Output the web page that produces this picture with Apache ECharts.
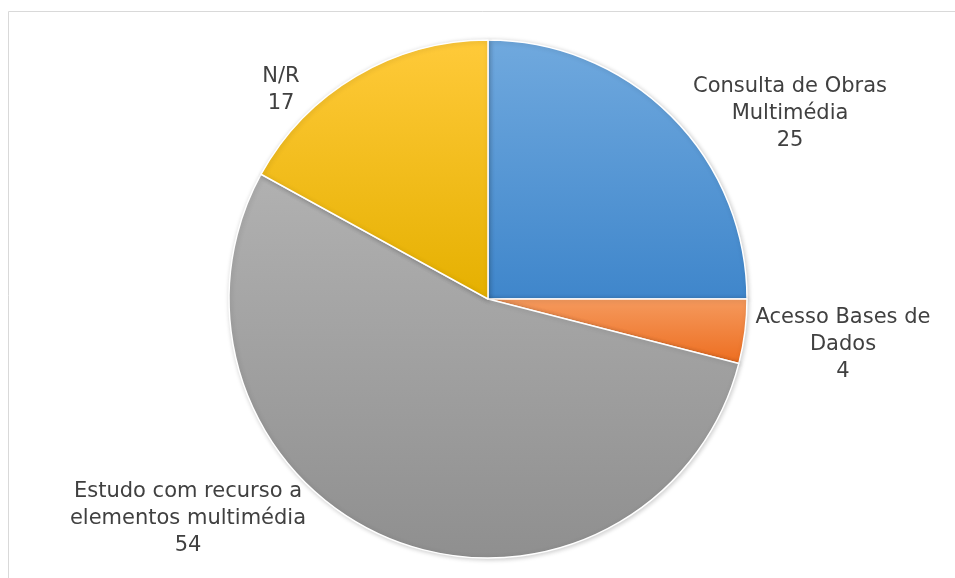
<!DOCTYPE html>
<html>
<head>
<meta charset="utf-8">
<script src="https://cdn.jsdelivr.net/npm/echarts@6/dist/echarts.min.js"></script>
<style>
    html,body{margin:0;padding:0;background:#fff;}
    #chart{width:955px;height:578px;}
</style>
</head>
<body>
<div id="chart"></div>
<script>
// dados do gráfico
var categories = ['Consulta de Obras\nMultimédia', 'Acesso Bases de\nDados', 'Estudo com recurso a\nelementos multimédia', 'N/R'];
var values = [25, 4, 54, 17];
// cores: [topo, base] de cada fatia
var colorsTop = ['#70a9de', '#f59a5e', '#b1b1b1', '#ffca3a'];
var colorsBottom = ['#3f86cb', '#ed6d1f', '#8f8f8f', '#e5b000'];
// centro de cada rótulo (px)
var labelPos = [[790, 114], [843, 345], [188, 519], [281, 90]];

var myChart = echarts.init(document.getElementById('chart'));

var pieData = values.map(function (v, i) {
    return {
        name: categories[i],
        value: v,
        itemStyle: {
            color: new echarts.graphic.LinearGradient(0, 0, 0, 1, [
                { offset: 0, color: colorsTop[i] },
                { offset: 1, color: colorsBottom[i] }
            ])
        }
    };
});

var option = {
    animation: false,
    graphic: [{
        type: 'rect',
        shape: { x: 8.5, y: 11.5, width: 1100, height: 700 },
        style: { fill: 'none', stroke: '#d9d9d9', lineWidth: 1 },
        silent: true
    }],
    series: [{
        type: 'pie',
        center: [488, 299],
        radius: 259,
        startAngle: 90,
        clockwise: true,
        avoidLabelOverlap: false,
        itemStyle: {
            borderColor: '#fff',
            borderWidth: 1.5,
            shadowBlur: 5,
            shadowColor: 'rgba(0,0,0,0.2)',
            shadowOffsetX: 1,
            shadowOffsetY: 1
        },
        label: {
            show: true,
            position: 'outside',
            formatter: '{b}\n{c}',
            color: '#404040',
            fontFamily: 'DejaVu Sans',
            fontSize: 21,
            lineHeight: 27,
            align: 'center'
        },
        labelLine: { show: false },
        labelLayout: function (params) {
            var p = labelPos[params.dataIndex];
            return {
                x: p[0],
                y: p[1],
                align: 'center',
                verticalAlign: 'middle'
            };
        },
        data: pieData
    }]
};
myChart.setOption(option);
</script>
</body>
</html>
